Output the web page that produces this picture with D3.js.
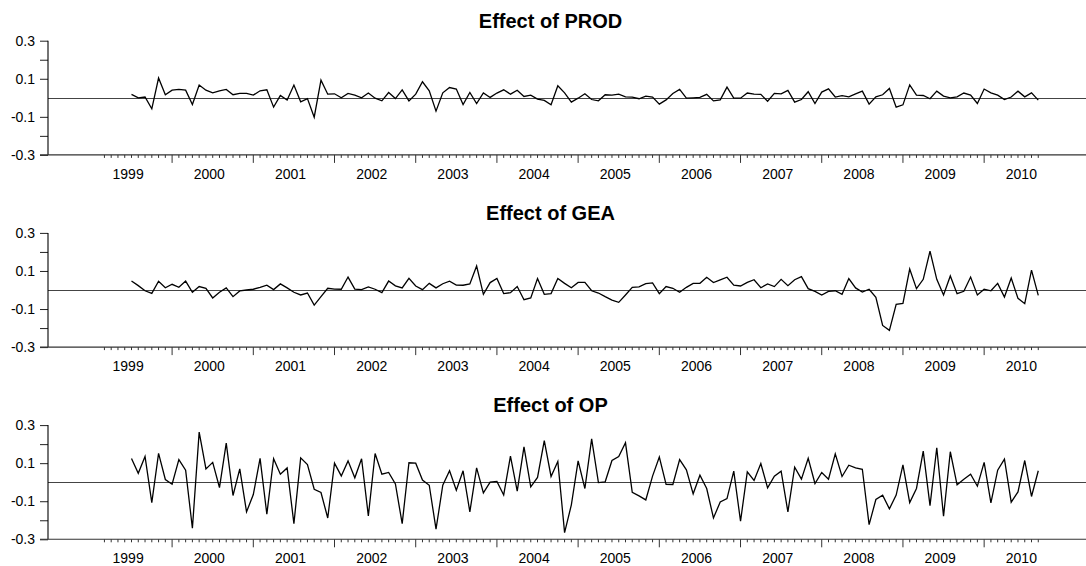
<!DOCTYPE html>
<html>
<head>
<meta charset="utf-8">
<script src="https://cdn.jsdelivr.net/npm/d3@7"></script>
<style>
  html, body { margin: 0; padding: 0; background: #fff; }
  svg { display: block; }
  text { font-family: "Liberation Sans", Arial, Helvetica, sans-serif; fill: #000; }
</style>
</head>
<body>
<svg id="chart" width="1086" height="566"></svg>
<script>
// ---------------- DATA ----------------
const firstObs = "1999-07";   // first month with a value
const axisStart = "1999-03";  // first month tick on the axis
const titles = ["Effect of PROD", "Effect of GEA", "Effect of OP"];
const yearLabels = ["1999","2000","2001","2002","2003","2004","2005","2006","2007","2008","2009","2010"];
const yTickValues = [0.3, 0.2, 0.1, -0.1, -0.2, -0.3];
const yTickLabels = ["0.3", "", "0.1", "-0.1", "", "-0.3"];

const prod = [
  0.018, 0, 0.004, -0.058, 0.104, 0.016, 0.04, 0.044, 0.04, -0.035, 0.067, 0.04,
  0.026, 0.037, 0.044, 0.016, 0.023, 0.023, 0.014, 0.037, 0.042, -0.049, 0.012, -0.012,
  0.067, -0.021, -0.004, -0.102, 0.093, 0.019, 0.021, 0, 0.023, 0.014, 0, 0.025,
  -0.002, -0.016, 0.028, -0.004, 0.042, -0.016, 0.019, 0.084, 0.037, -0.07, 0.026, 0.054,
  0.046, -0.035, 0.028, -0.03, 0.026, 0.002, 0.025, 0.042, 0.019, 0.04, 0.007, 0.014,
  -0.007, -0.014, -0.037, 0.063, 0.026, -0.023, -0.002, 0.021, -0.009, -0.016, 0.016, 0.014,
  0.019, 0.005, 0.004, -0.005, 0.009, 0.004, -0.033, -0.011, 0.023, 0.044, -0.002, 0,
  0.002, 0.018, -0.016, -0.011, 0.056, -0.002, -0.002, 0.025, 0.019, 0.018, -0.018, 0.023,
  0.021, 0.039, -0.023, -0.009, 0.032, -0.03, 0.03, 0.047, 0.004, 0.011, 0.005, 0.021,
  0.035, -0.033, 0.005, 0.016, 0.049, -0.049, -0.037, 0.068, 0.014, 0.012, -0.005, 0.035,
  0.009, 0, 0.005, 0.025, 0.014, -0.03, 0.046, 0.026, 0.014, -0.009, 0.004, 0.035,
  0.005, 0.026, -0.012
];
const gea = [
  0.047, 0.023, -0.004, -0.018, 0.046, 0.012, 0.03, 0.014, 0.047, -0.012, 0.018, 0.009,
  -0.042, -0.012, 0.011, -0.035, -0.005, 0, 0.004, 0.014, 0.025, 0.002, 0.032, 0.011,
  -0.012, -0.026, -0.016, -0.079, -0.035, 0.009, 0.005, 0.004, 0.068, 0.005, 0.002, 0.016,
  0.004, -0.014, 0.047, 0.022, 0.011, 0.061, 0.021, 0.002, 0.035, 0.011, 0.033, 0.046,
  0.026, 0.025, 0.032, 0.126, -0.023, 0.039, 0.061, -0.019, -0.014, 0.018, -0.051, -0.042,
  0.06, -0.023, -0.019, 0.06, 0.035, 0.012, 0.04, 0.04, -0.004, -0.016, -0.035, -0.053,
  -0.065, -0.026, 0.014, 0.016, 0.033, 0.037, -0.019, 0.018, 0.009, -0.012, 0.014, 0.035,
  0.035, 0.067, 0.039, 0.053, 0.067, 0.026, 0.021, 0.04, 0.054, 0.012, 0.032, 0.018,
  0.056, 0.023, 0.054, 0.07, 0.007, -0.007, -0.026, -0.007, -0.004, -0.023, 0.06, 0.011,
  -0.011, 0.004, -0.039, -0.186, -0.212, -0.075, -0.07, 0.11, 0.007, 0.056, 0.204, 0.056,
  -0.026, 0.074, -0.019, -0.007, 0.068, -0.026, 0.004, -0.004, 0.035, -0.037, 0.063, -0.044,
  -0.072, 0.104, -0.028
];
const op = [
  0.125, 0.047, 0.135, -0.107, 0.151, 0.014, -0.011, 0.119, 0.063, -0.242, 0.263, 0.07,
  0.104, -0.028, 0.205, -0.07, 0.07, -0.156, -0.065, 0.125, -0.168, 0.123, 0.042, 0.075,
  -0.218, 0.128, 0.093, -0.037, -0.054, -0.188, 0.1, 0.033, 0.112, 0.023, 0.123, -0.177,
  0.151, 0.042, 0.051, -0.009, -0.218, 0.102, 0.1, 0.011, -0.016, -0.247, -0.016, 0.06,
  -0.042, 0.06, -0.156, 0.075, -0.056, 0, 0.004, -0.067, 0.137, -0.047, 0.186, -0.025,
  0.025, 0.218, 0.03, 0.109, -0.265, -0.119, 0.112, -0.033, 0.228, -0.002, 0.002, 0.114,
  0.135, 0.207, -0.053, -0.072, -0.093, 0.032, 0.132, -0.011, -0.012, 0.119, 0.065, -0.061,
  0.037, -0.033, -0.188, -0.104, -0.086, 0.058, -0.205, 0.054, 0.009, 0.098, -0.03, 0.032,
  0.058, -0.156, 0.079, 0.016, 0.126, -0.007, 0.051, 0.016, 0.149, 0.03, 0.089, 0.075,
  0.068, -0.223, -0.091, -0.068, -0.14, -0.068, 0.091, -0.107, -0.033, 0.163, -0.123, 0.181,
  -0.179, 0.16, -0.014, 0.016, 0.042, -0.021, 0.104, -0.109, 0.063, 0.121, -0.105, -0.051,
  0.114, -0.075, 0.06
];
const seriesList = [prod, gea, op];

// ---------------- LAYOUT ----------------
const W = 1086, H = 566;
const plotLeft = 48, plotRight = 1086;
const panelTops = [40.7, 232.9, 425.1];
const panelH = 114.2;
const svg = d3.select("#chart");

// month index helper: months since Jan 1999
const baseYear = 1999;
function monthIndex(str) {
  const [y, m] = str.split("-").map(Number);
  return (y - baseYear) * 12 + (m - 1);
}
const m0 = monthIndex(firstObs);
const nObs = prod.length;
const mLast = m0 + nObs - 1;
const mAxis = monthIndex(axisStart);

// x scale: month index -> pixel (6.767 px per month)
const pxPerMonth = 6.767;
const x = d3.scaleLinear()
  .domain([m0, mLast])
  .range([131.5, 131.5 + (mLast - m0) * pxPerMonth]);

const monthTicks = d3.range(mAxis, mLast + 1);

seriesList.forEach((vals, p) => {
  const top = panelTops[p];
  const y = d3.scaleLinear().domain([-0.3, 0.3]).range([top + panelH, top]);
  const g = svg.append("g");

  // title
  g.append("text")
    .attr("x", 550.5).attr("y", top - 12.8)
    .attr("text-anchor", "middle")
    .style("font-size", "20px").style("font-weight", "bold")
    .text(titles[p]);

  // zero line
  g.append("line")
    .attr("x1", plotLeft).attr("x2", plotRight)
    .attr("y1", Math.round(y(0)) + 0.5).attr("y2", Math.round(y(0)) + 0.5)
    .attr("stroke", "#444").attr("stroke-width", 1);

  // left axis
  const yAxis = d3.axisLeft(y)
    .tickValues(yTickValues)
    .tickSize(8)
    .tickPadding(5)
    .tickFormat((d, i) => yTickLabels[i]);
  const ya = g.append("g")
    .attr("transform", `translate(${plotLeft},0)`)
    .call(yAxis);
  ya.select(".domain").remove();
  ya.selectAll(".tick line").attr("stroke", "#222");
  ya.selectAll(".tick text")
    .style("font-size", "14px")
    .style("font-family", '"Liberation Sans", Arial, sans-serif')
    .attr("fill", "#000");
  g.append("line")
    .attr("x1", plotLeft).attr("x2", plotLeft)
    .attr("y1", y(0.3)).attr("y2", y(-0.3))
    .attr("stroke", "#000").attr("stroke-width", 1.1);

  // bottom axis line
  const yb = y(-0.3);
  g.append("line")
    .attr("x1", plotLeft - 8).attr("x2", plotRight)
    .attr("y1", yb).attr("y2", yb)
    .attr("stroke", "#333").attr("stroke-width", 1.1);

  // month ticks
  g.selectAll("line.mtick")
    .data(monthTicks)
    .join("line")
    .attr("class", "mtick")
    .attr("x1", d => x(d)).attr("x2", d => x(d))
    .attr("y1", yb)
    .attr("y2", d => yb + ((d % 12 === 0) ? 8 : 3))
    .attr("stroke", "#333").attr("stroke-width", 1);

  // year labels centred mid-year
  g.selectAll("text.year")
    .data(yearLabels)
    .join("text")
    .attr("class", "year")
    .attr("x", d => x((+d - baseYear) * 12 + 5.5))
    .attr("y", yb + 23.6)
    .attr("text-anchor", "middle")
    .style("font-size", "14px")
    .text(d => d);

  // data line
  const line = d3.line()
    .x((d, i) => x(m0 + i))
    .y(d => y(d));
  g.append("path")
    .datum(vals)
    .attr("d", line)
    .attr("fill", "none")
    .attr("stroke", "#000")
    .attr("stroke-width", 1.3)
    .attr("stroke-linejoin", "miter");
});
</script>
</body>
</html>
